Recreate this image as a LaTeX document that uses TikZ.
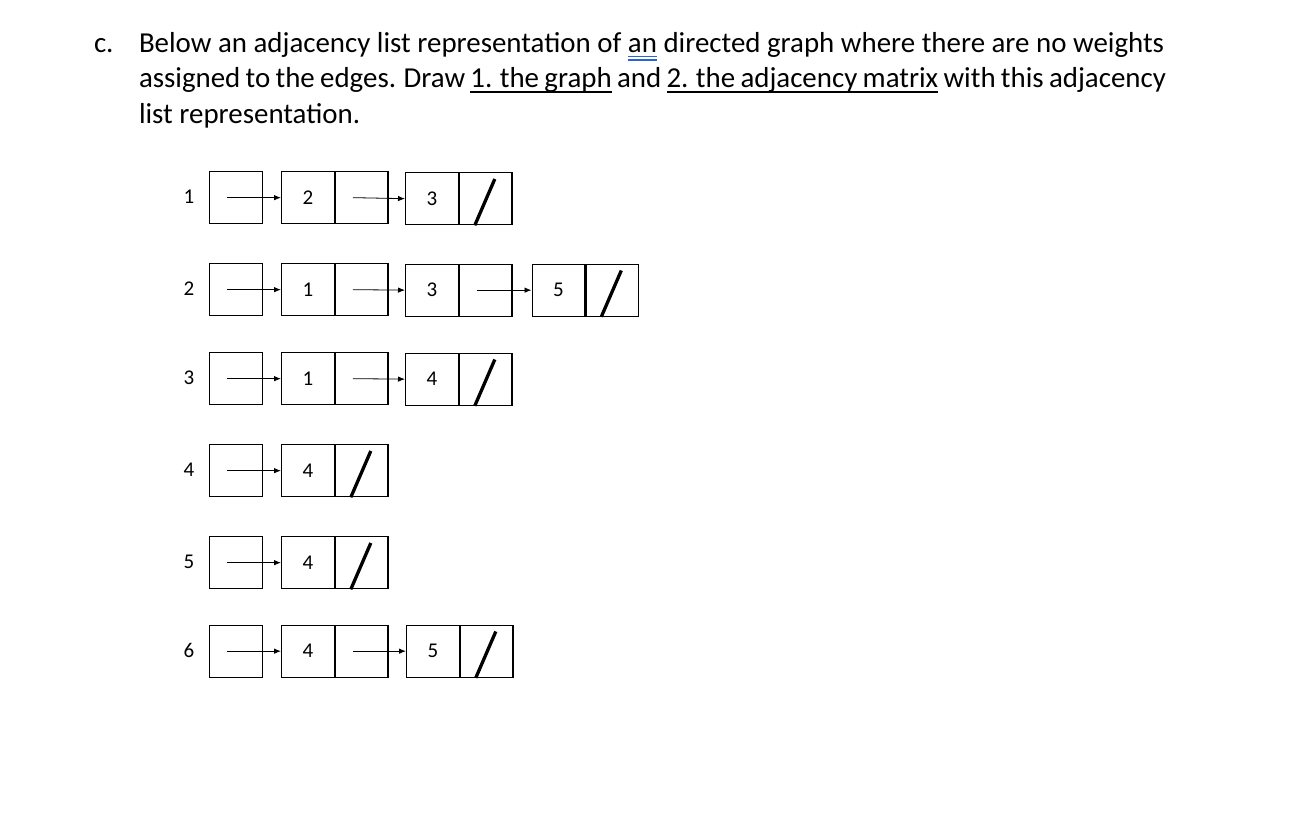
\documentclass[tikz,border=0pt]{standalone}
\usepackage{fontspec}
\setmainfont{Carlito}
\usetikzlibrary{calc,arrows.meta}
\definecolor{gramblue}{RGB}{40,100,215}
\protected\def\mylinetwofont{\fontsize{28.9}{35}\selectfont\spaceskip=5.3pt plus 1pt minus 1pt\relax}
\begin{document}
\begin{tikzpicture}[x=1pt,y=-1pt,
  txt/.style={inner sep=0pt,outer sep=0pt,anchor=base west,font=\fontsize{28.9}{35}\selectfont},
  txtb/.style={inner sep=0pt,outer sep=0pt,anchor=base west,font=\mylinetwofont},
  cell/.style={draw,line width=1.3pt,minimum width=52.5pt,minimum height=52pt,inner sep=0pt,anchor=north west,font=\fontsize{21}{24}\selectfont},
  rowlbl/.style={inner sep=0pt,font=\fontsize{21}{24}\selectfont},
  ptr/.style={line width=0.8pt,-{Latex[length=7pt,width=5.5pt]}},
  nil/.style={line width=3.3pt},
  ul/.style={line width=1.6pt},
  blueul/.style={line width=1.2pt,gramblue}]
\useasboundingbox[fill=white] (0,0) rectangle (1290,822);

% ---- question text ----
\node[txt] (cc) at (94,52) {c.};
\node[txt] (t1a) at (139,52) {Below an adjacency list representation of\ \null};
\node[txt] (t1b) at (t1a.base east) {an};
\node[txt] (t1c) at (t1b.base east) {\ directed graph where there are no weights};
\draw[blueul] ([yshift=-4.5pt]t1b.base west) -- ([yshift=-4.5pt]t1b.base east);
\draw[blueul] ([yshift=-8pt]t1b.base west) -- ([yshift=-8pt]t1b.base east);

\node[txtb] (t2a) at (139,87.5) {assigned to the edges. Draw\ \null};
\node[txtb] (t2b) at (t2a.base east) {1. the graph};
\node[txtb] (t2c) at (t2b.base east) {\ and\ \null};
\node[txtb] (t2d) at (t2c.base east) {2. the adjacency matrix};
\node[txtb] (t2e) at (t2d.base east) {\ with this adjacency};
\draw[ul] ([yshift=-4.5pt]t2b.base west) -- ([yshift=-4.5pt]t2b.base east);
\draw[ul] ([yshift=-4.5pt]t2d.base west) -- ([yshift=-4.5pt]t2d.base east);

\node[txt] (t3) at (139,123) {list representation.};

% ---- row 1 ----
\node[rowlbl] (l1) at (189,197) {1};
\node[cell] (h1) at (209,171) {};
\node[cell] (a1) at (281,171) {2};
\node[cell] (a1n) at (a1.north east) {};
\node[cell] (b1) at (405,172) {3};
\node[cell] (b1n) at (b1.north east) {};
\draw[ptr] ([xshift=18pt]h1.west) -- (a1.west);
\draw[ptr] ([xshift=18pt]a1n.west) -- (b1.west);
\draw[nil] ($(b1n.south west)+(16,0)$) -- ($(b1n.north west)+(36,7)$);

% ---- row 2 ----
\node[rowlbl] (l2) at (189,289) {2};
\node[cell] (h2) at (209,263) {};
\node[cell] (a2) at (281,263) {1};
\node[cell] (a2n) at (a2.north east) {};
\node[cell] (b2) at (405,263.5) {3};
\node[cell] (b2n) at (b2.north east) {};
\node[cell] (c2) at (531.5,263.5) {5};
\node[cell] (c2n) at (c2.north east) {};
\draw[ptr] ([xshift=18pt]h2.west) -- (a2.west);
\draw[ptr] ([xshift=18pt]a2n.west) -- (b2.west);
\draw[ptr] ([xshift=18pt]b2n.west) -- (c2.west);
\draw[nil] ($(c2n.south west)+(16,0)$) -- ($(c2n.north west)+(36,7)$);

% ---- row 3 ----
\node[rowlbl] (l3) at (189,378) {3};
\node[cell] (h3) at (209,352) {};
\node[cell] (a3) at (281,352) {1};
\node[cell] (a3n) at (a3.north east) {};
\node[cell] (b3) at (405,352.5) {4};
\node[cell] (b3n) at (b3.north east) {};
\draw[ptr] ([xshift=18pt]h3.west) -- (a3.west);
\draw[ptr] ([xshift=18pt]a3n.west) -- (b3.west);
\draw[nil] ($(b3n.south west)+(16,0)$) -- ($(b3n.north west)+(36,7)$);

% ---- row 4 ----
\node[rowlbl] (l4) at (189,470) {4};
\node[cell] (h4) at (209,444) {};
\node[cell] (a4) at (281,444) {4};
\node[cell] (a4n) at (a4.north east) {};
\draw[ptr] ([xshift=18pt]h4.west) -- (a4.west);
\draw[nil] ($(a4n.south west)+(16,0)$) -- ($(a4n.north west)+(36,7)$);

% ---- row 5 ----
\node[rowlbl] (l5) at (189,562) {5};
\node[cell] (h5) at (209,536) {};
\node[cell] (a5) at (281,536) {4};
\node[cell] (a5n) at (a5.north east) {};
\draw[ptr] ([xshift=18pt]h5.west) -- (a5.west);
\draw[nil] ($(a5n.south west)+(16,0)$) -- ($(a5n.north west)+(36,7)$);

% ---- row 6 ----
\node[rowlbl] (l6) at (189,650) {6};
\node[cell] (h6) at (209,624.5) {};
\node[cell] (a6) at (281,624.5) {4};
\node[cell] (a6n) at (a6.north east) {};
\node[cell] (b6) at (406,624.5) {5};
\node[cell] (b6n) at (b6.north east) {};
\draw[ptr] ([xshift=18pt]h6.west) -- (a6.west);
\draw[ptr] ([xshift=18pt]a6n.west) -- (b6.west);
\draw[nil] ($(b6n.south west)+(16,0)$) -- ($(b6n.north west)+(36,7)$);
\end{tikzpicture}
\end{document}
